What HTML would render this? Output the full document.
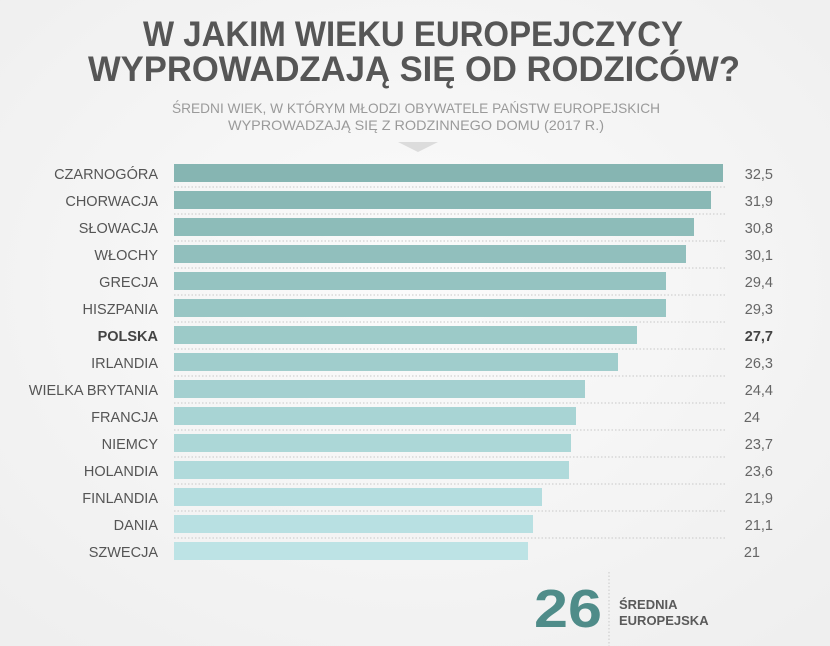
<!DOCTYPE html>
<html><head><meta charset="utf-8"><style>
html,body{margin:0;padding:0;background:#f6f6f6}
svg{display:block}
text{font-family:"Liberation Sans",sans-serif}
</style></head><body>
<svg width="830" height="646" viewBox="0 0 830 646" xmlns="http://www.w3.org/2000/svg">
<defs><radialGradient id="bg" cx="0.5" cy="0.45" r="0.7"><stop offset="0" stop-color="#fbfbfb"/><stop offset="1" stop-color="#efefef"/></radialGradient></defs>
<rect width="830" height="646" fill="url(#bg)"/>
<g fill="#565656" font-weight="bold" font-size="35">
<text x="143" y="46" textLength="540" lengthAdjust="spacingAndGlyphs">W JAKIM WIEKU EUROPEJCZYCY</text>
<text x="88" y="81" textLength="652" lengthAdjust="spacingAndGlyphs">WYPROWADZAJĄ SIĘ OD RODZICÓW?</text>
</g>
<g fill="#9a9a9a" font-size="14">
<text x="172" y="113" textLength="488" lengthAdjust="spacingAndGlyphs">ŚREDNI WIEK, W KTÓRYM MŁODZI OBYWATELE PAŃSTW EUROPEJSKICH</text>
<text x="228" y="130" textLength="376" lengthAdjust="spacingAndGlyphs">WYPROWADZAJĄ SIĘ Z RODZINNEGO DOMU (2017 R.)</text>
</g>
<polygon points="398,142 438,142 418,152" fill="#dcdcdc"/>
<g id="rows" font-size="14.5" fill="#555">
</g>
<g font-size="14.5">
<!-- rows generated inline -->
<g stroke="#c8c8c8" stroke-dasharray="1.5,2" stroke-width="1">
<line x1="174" y1="187" x2="726" y2="187"/><line x1="174" y1="214" x2="726" y2="214"/><line x1="174" y1="241" x2="726" y2="241"/><line x1="174" y1="268" x2="726" y2="268"/><line x1="174" y1="295" x2="726" y2="295"/><line x1="174" y1="322" x2="726" y2="322"/><line x1="174" y1="349" x2="726" y2="349"/><line x1="174" y1="376" x2="726" y2="376"/><line x1="174" y1="403" x2="726" y2="403"/><line x1="174" y1="430" x2="726" y2="430"/><line x1="174" y1="457" x2="726" y2="457"/><line x1="174" y1="484" x2="726" y2="484"/><line x1="174" y1="511" x2="726" y2="511"/><line x1="174" y1="538" x2="726" y2="538"/>
</g>
<rect x="174" y="164" width="549" height="18" fill="#86b5b2"/>
<rect x="174" y="191" width="537" height="18" fill="#89b8b5"/>
<rect x="174" y="218" width="520" height="18" fill="#8dbcb9"/>
<rect x="174" y="245" width="512" height="18" fill="#91bfbd"/>
<rect x="174" y="272" width="492" height="18" fill="#95c3c1"/>
<rect x="174" y="299" width="492" height="18" fill="#98c6c4"/>
<rect x="174" y="326" width="463" height="18" fill="#9ccac8"/>
<rect x="174" y="353" width="444" height="18" fill="#a0cdcc"/>
<rect x="174" y="380" width="411" height="18" fill="#a4d0d0"/>
<rect x="174" y="407" width="402" height="18" fill="#a8d4d4"/>
<rect x="174" y="434" width="397" height="18" fill="#acd7d7"/>
<rect x="174" y="461" width="395" height="18" fill="#b0dadb"/>
<rect x="174" y="488" width="368" height="18" fill="#b4dddf"/>
<rect x="174" y="515" width="359" height="18" fill="#b8e0e2"/>
<rect x="174" y="542" width="354" height="18" fill="#bde3e5"/>
<g fill="#555" text-anchor="end">
<text x="158" y="179">CZARNOGÓRA</text><text x="158" y="206">CHORWACJA</text><text x="158" y="233">SŁOWACJA</text><text x="158" y="260">WŁOCHY</text><text x="158" y="287">GRECJA</text><text x="158" y="314">HISZPANIA</text><text x="158" y="341" font-weight="bold" fill="#444">POLSKA</text><text x="158" y="368">IRLANDIA</text><text x="158" y="395">WIELKA BRYTANIA</text><text x="158" y="422">FRANCJA</text><text x="158" y="449">NIEMCY</text><text x="158" y="476">HOLANDIA</text><text x="158" y="503">FINLANDIA</text><text x="158" y="530">DANIA</text><text x="158" y="557">SZWECJA</text>
</g>
<g fill="#666" text-anchor="end">
<text x="773" y="179">32,5</text><text x="773" y="206">31,9</text><text x="773" y="233">30,8</text><text x="773" y="260">30,1</text><text x="773" y="287">29,4</text><text x="773" y="314">29,3</text><text x="773" y="341" font-weight="bold" fill="#444">27,7</text><text x="773" y="368">26,3</text><text x="773" y="395">24,4</text><text x="760" y="422">24</text><text x="773" y="449">23,7</text><text x="773" y="476">23,6</text><text x="773" y="503">21,9</text><text x="773" y="530">21,1</text><text x="760" y="557">21</text>
</g>
</g>
<line x1="609" y1="572" x2="609" y2="646" stroke="#c8c8c8" stroke-dasharray="1.5,2"/>
<text x="534" y="627" font-size="54" font-weight="bold" fill="#4f8c89" textLength="68" lengthAdjust="spacingAndGlyphs">26</text>
<g fill="#5a5a5a" font-weight="bold" font-size="13">
<text x="619" y="609">ŚREDNIA</text>
<text x="619" y="625">EUROPEJSKA</text>
</g>
</svg>
</body></html>
